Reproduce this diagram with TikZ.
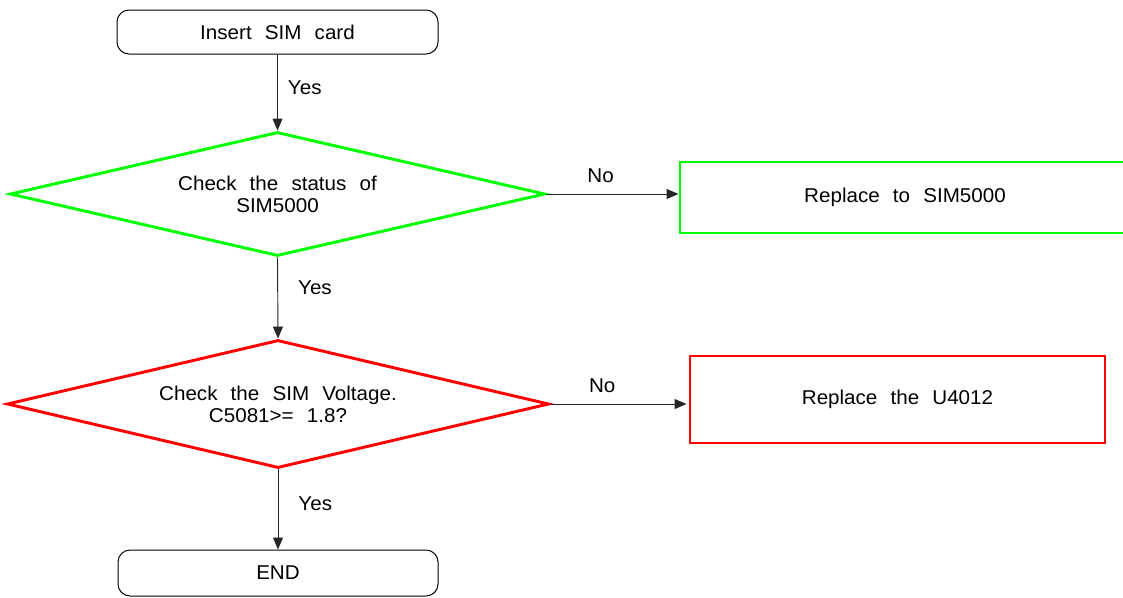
\documentclass[tikz,border=0pt]{standalone}
\usepackage{fontspec}
\setmainfont{Liberation Sans}[WordSpace=2.3, FakeStretch=1.03]
\usetikzlibrary{shapes.geometric,arrows.meta}
\begin{document}
\begin{tikzpicture}[x=0.75pt,y=-0.75pt,
  every node/.style={font=\fontsize{15}{16.5}\selectfont, inner sep=0pt},
  termbox/.style={draw=black, line width=0.75pt, rounded corners=9pt},
  greenline/.style={draw={rgb,255:red,0;green,255;blue,0}, line width=2.2pt},
  redline/.style={draw={rgb,255:red,255;green,0;blue,0}, line width=2.2pt},
  decision/.style={shape=diamond, shape aspect=4.3, align=center, inner sep=0pt},
  conn/.style={draw=black!85, line width=0.7pt, -{Triangle[length=9pt,width=7.5pt]}},
  lbl/.style={inner sep=0pt}
]
\useasboundingbox (0,0) rectangle (1123,597);

\node[termbox, minimum width=240.75pt, minimum height=33pt] (start) at (277.5,32) {Insert SIM card};

\node[decision, greenline, minimum width=401.25pt, minimum height=93pt] (d1) at (277.5,194)
  {Check the status of\\SIM5000};

\node[greenline, minimum width=337.5pt, minimum height=53.25pt] (g1) at (905,197.5) {Replace to SIM5000};

\node[decision, redline, minimum width=406.5pt, minimum height=96pt] (d2) at (278,404)
  {Check the SIM Voltage.\\C5081>= 1.8?};

\node[redline, minimum width=311.25pt, minimum height=65.25pt] (r1) at (897.5,399.5) {Replace the U4012};

\node[termbox, minimum width=240pt, minimum height=34.5pt] (end) at (278,573) {END};

\draw[conn] (start.south) -- node[lbl, pos=0.44, right=7.5pt] (y1) {Yes} (d1.north);
\draw[conn] (d1.south) -- node[lbl, pos=0.37, right=15pt] (y2) {Yes} (d2.north);
\draw[conn] (d2.south) -- node[lbl, pos=0.43, right=15pt] (y3) {Yes} (end.north);
\draw[conn] (d1.east) -- node[lbl, pos=0.41, above=8pt] (n1) {No} (d1.east -| g1.west);
\draw[conn] (d2.east) -- node[lbl, pos=0.38, above=8pt] (n2) {No} ([xshift=-1.5pt]d2.east -| r1.west);
\end{tikzpicture}
\end{document}
